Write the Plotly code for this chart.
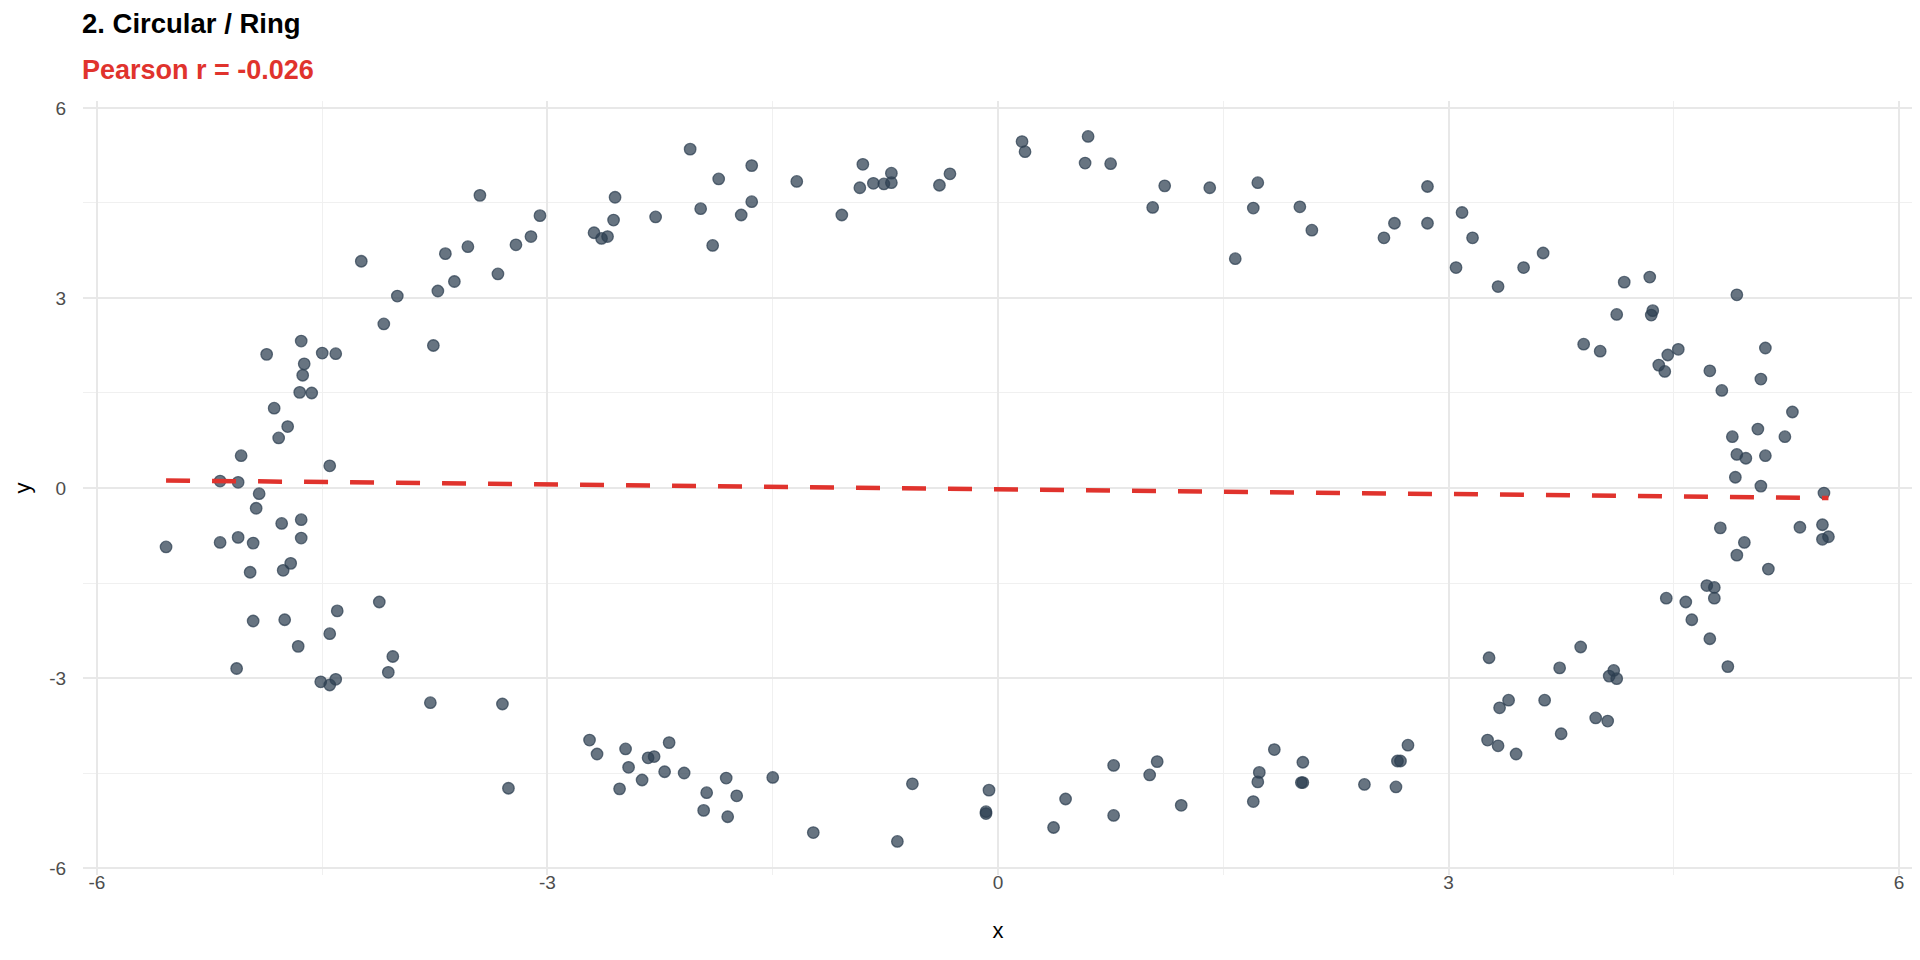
import numpy as np
import plotly.graph_objects as go

# points (x, y)
x_vals = [
    -3.45, -4.24, -3.68, -3.53, -3.62, -3.73, -4.00, -4.09, -3.76, -4.87,
    -4.64, -4.50, -4.41, -4.62, -4.63, -4.65, -4.57, -4.82, -4.73, -4.79,
    -5.04, -4.45, -5.18, -5.06, -4.92, -4.94, -4.77, -4.64, -4.64, -5.06,
    -5.18, -4.96, -5.54, -4.98, -4.76, -4.71, -4.12, -4.40, -4.96, -4.75,
    -4.45, -4.66, -4.03, -4.06, -5.07, -4.51, -4.41, -4.45, -3.78, -3.05,
    -3.11, -3.21, -3.33, -2.55, -2.56, -2.69, -2.64, -2.60, -2.28, -2.05,
    -1.86, -1.64, -1.98, -1.71, -1.64, -1.90, -1.34, -1.04, -0.90, -0.92,
    -0.83, -0.76, -0.71, -0.71, -0.39, -0.32, 0.16, 0.18, 0.60, 0.58,
    0.75, 1.03, 1.11, 1.41, 1.58, 1.73, 1.70, 2.01, 2.09, 2.57,
    2.64, 2.86, 2.86, 3.09, 3.16, 3.05, 3.33, 3.50, 3.63, 4.17,
    4.34, 4.12, 4.92, 4.35, 4.36, 3.90, 4.01, 4.53, 4.46, 4.40,
    4.44, 5.11, 4.74, 5.08, 4.82, 5.29, 5.06, 5.24, 4.89, 4.92,
    4.98, 5.11, 4.91, 5.08, 5.50, 4.81, 5.34, 5.49, 5.53, 5.49,
    4.97, 4.92, 5.13, 4.72, 4.77, 4.77, 4.45, 4.58, 4.62, 4.74,
    4.86, 3.88, 3.74, 4.10, 4.07, 4.12, 3.64, 3.98, 4.06, 3.75,
    3.27, 3.40, 3.34, 3.26, 3.33, 3.45, 2.73, 2.68, 2.66, 2.44,
    2.65, 2.03, 2.03, 2.02, 1.84, 1.74, 1.73, 1.70, 1.22, 1.06,
    1.01, 0.77, 0.77, 0.45, 0.37, -0.06, -0.08, -0.08, -3.30, -3.26,
    -2.72, -2.67, -2.48, -2.46, -2.52, -2.37, -2.33, -2.29, -2.19, -2.22,
    -2.09, -1.81, -1.94, -1.74, -1.96, -1.80, -1.50, -1.23, -0.57, -0.67,
]
y_vals = [
    4.62, 3.58, 3.70, 3.81, 3.26, 3.11, 3.03, 2.59, 2.25, 2.11,
    2.32, 2.13, 2.12, 1.96, 1.78, 1.51, 1.50, 1.26, 0.97, 0.79,
    0.51, 0.35, 0.11, 0.09, -0.09, -0.32, -0.56, -0.50, -0.79, -0.78,
    -0.86, -0.87, -0.93, -1.33, -1.30, -1.19, -1.80, -1.94, -2.10, -2.08,
    -2.30, -2.50, -2.66, -2.91, -2.85, -3.06, -3.02, -3.11, -3.39, 4.30,
    3.97, 3.84, 3.38, 4.59, 4.23, 4.03, 3.94, 3.97, 4.28, 5.35,
    4.88, 5.09, 4.41, 4.31, 4.52, 3.83, 4.84, 4.31, 5.11, 4.74,
    4.81, 4.80, 4.97, 4.82, 4.78, 4.96, 5.47, 5.31, 5.55, 5.13,
    5.12, 4.43, 4.77, 4.74, 3.62, 4.82, 4.42, 4.44, 4.07, 3.95,
    4.18, 4.76, 4.18, 4.35, 3.95, 3.48, 3.18, 3.48, 3.71, 3.25,
    3.33, 2.74, 3.05, 2.73, 2.80, 2.27, 2.16, 2.19, 2.10, 1.94,
    1.84, 2.21, 1.85, 1.72, 1.54, 1.20, 0.93, 0.81, 0.81, 0.53,
    0.47, 0.51, 0.17, 0.03, -0.08, -0.63, -0.62, -0.58, -0.77, -0.81,
    -0.86, -1.06, -1.28, -1.54, -1.57, -1.74, -1.74, -1.80, -2.08, -2.38,
    -2.82, -2.51, -2.84, -2.88, -2.97, -3.01, -3.35, -3.63, -3.68, -3.88,
    -2.68, -3.35, -3.47, -3.98, -4.07, -4.20, -4.06, -4.31, -4.31, -4.68,
    -4.72, -4.33, -4.65, -4.65, -4.13, -4.49, -4.64, -4.95, -5.01, -4.32,
    -4.53, -4.38, -5.17, -4.91, -5.36, -4.77, -5.14, -5.11, -3.41, -4.74,
    -3.98, -4.20, -4.12, -4.41, -4.75, -4.61, -4.26, -4.24, -4.02, -4.48,
    -4.50, -4.58, -4.81, -4.86, -5.09, -5.19, -4.57, -5.44, -4.67, -5.58,
]

title_text = "2. Circular / Ring"
subtitle_text = "Pearson r = -0.026"
tick_vals = [-6, -3, 0, 3, 6]
tick_text = ["-6", "-3", "0", "3", "6"]

# linear fit for the dashed line
xs = np.array(x_vals)
ys = np.array(y_vals)
slope, intercept = np.polyfit(xs, ys, 1)
fit_x = np.array([xs.min(), xs.max()])
fit_y = slope * fit_x + intercept

fig = go.Figure()

fig.add_trace(go.Scatter(
    x=x_vals, y=y_vals, mode="markers",
    marker=dict(size=11.5, color="rgba(44,62,80,0.72)",
                line=dict(color="rgba(44,62,80,0.72)", width=1.3)),
    showlegend=False, hoverinfo="skip"
))

fig.add_trace(go.Scatter(
    x=fit_x, y=fit_y, mode="lines",
    line=dict(color="#E0332D", width=4.5, dash="24px,22px"),
    showlegend=False, hoverinfo="skip"
))

axis_style = dict(
    tickvals=tick_vals, ticktext=tick_text,
    showgrid=True, gridcolor="#E8E8E8", gridwidth=1.7,
    minor=dict(dtick=1.5, showgrid=True, gridcolor="#F0F0F0", gridwidth=1),
    zeroline=False, showline=False,
    tickfont=dict(family="Liberation Sans, Arial", size=19, color="#4D4D4D"),
    title_font=dict(family="Liberation Sans, Arial", size=22, color="#000000"),
)

fig.update_xaxes(range=[-6.093, 6.093], title_text="x", title_standoff=30,
                 ticks="", ticklabelstandoff=-6, **axis_style)
fig.update_yaxes(range=[-6.11, 6.11], title_text="y", title_standoff=12,
                 ticks="outside", ticklen=12, tickcolor="rgba(0,0,0,0)", **axis_style)

# the page body adds an 8px offset, so the figure is drawn 8px smaller
fig.update_layout(
    width=1912, height=952,
    margin=dict(l=75, r=7, t=93, b=85),
    plot_bgcolor="white", paper_bgcolor="white",
    font=dict(family="Liberation Sans, Arial"),
    annotations=[
        dict(text="<b>" + title_text + "</b>", xref="paper", yref="paper",
             x=-3 / 1830, y=1 + 77 / 774, xanchor="left", yanchor="middle",
             showarrow=False, font=dict(size=27.5, color="#000000")),
        dict(text="<b>" + subtitle_text + "</b>", xref="paper", yref="paper",
             x=-3 / 1830, y=1 + 31 / 774, xanchor="left", yanchor="middle",
             showarrow=False, font=dict(size=27, color="#E0332D")),
    ],
)

fig.write_html("out.html")
